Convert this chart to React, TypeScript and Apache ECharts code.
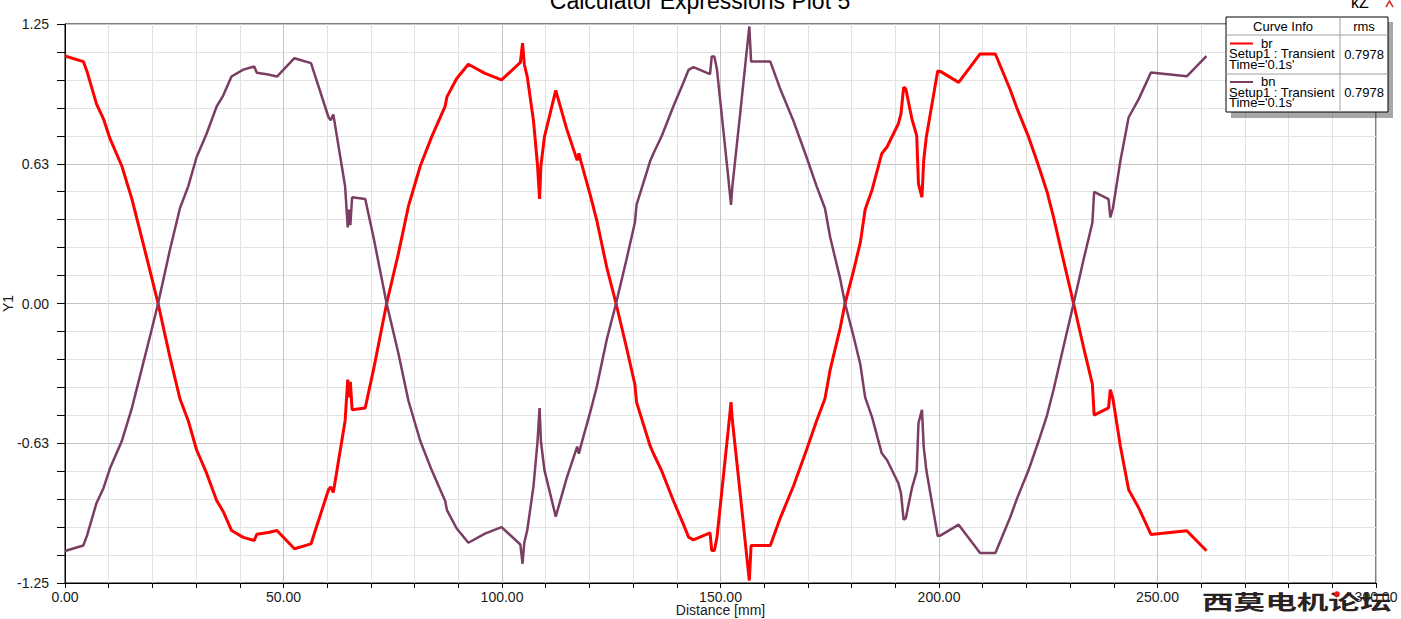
import React, { useEffect, useRef } from "react";
import * as echarts from "echarts";

const FONT = "'Liberation Sans', Arial, sans-serif";

const titleText = "Calculator Expressions Plot 5";
const xAxisName = "Distance [mm]";
const yAxisName = "Y1";

// Distance [mm]
const distance = [
  0.0, 4.2, 5.1, 7.2, 8.8, 10.3, 13.0, 15.3, 17.5, 19.5,
  21.3, 24.0, 26.3, 28.2, 30.1, 32.4, 34.7, 36.2, 38.1, 40.8,
  43.3, 43.9, 46.5, 48.5, 52.5, 56.3, 57.2, 60.3, 60.8, 61.4,
  64.1, 64.7, 65.0, 65.3, 65.7, 68.7, 70.6, 73.6, 76.3, 78.6,
  81.3, 83.9, 87.0, 87.4, 89.6, 92.3, 96.1, 99.9, 104.2, 104.7,
  105.1, 105.8, 107.2, 108.1, 108.6, 108.9, 109.7, 112.3, 114.8, 117.2,
  117.6, 118.0, 120.2, 121.7, 124.0, 126.1, 128.5, 130.4, 130.8, 133.9,
  134.7, 136.6, 139.2, 141.5, 142.7, 143.8, 147.6, 148.0, 148.6, 149.2,
  150.3, 151.8, 152.4, 152.7, 154.5, 156.0, 156.6, 157.0, 161.4, 163.6,
  166.7, 169.7, 172.0, 173.9, 175.1, 177.4, 178.5, 180.4, 182.0, 183.1,
  184.7, 186.9, 188.1, 190.7, 191.3, 191.9, 192.4, 193.8, 194.9, 195.3,
  196.1, 196.5, 197.1, 199.7, 200.3, 204.5, 209.4, 212.9, 216.3, 217.8,
  220.5, 222.8, 224.7, 226.2, 228.5, 230.8, 233.1, 235.1, 235.5, 238.8,
  239.2, 239.8, 241.5, 243.4, 245.7, 248.5, 256.7, 261.2,
];

// br
const brValues = [
  1.107, 1.082, 1.034, 0.893, 0.826, 0.737, 0.615, 0.468, 0.298, 0.143,
  0.0, -0.239, -0.426, -0.524, -0.654, -0.759, -0.881, -0.93, -1.015, -1.046,
  -1.06, -1.032, -1.024, -1.015, -1.097, -1.075, -1.02, -0.833, -0.82, -0.845,
  -0.524, -0.34, -0.42, -0.35, -0.475, -0.467, -0.296, 0.0, 0.224, 0.436,
  0.615, 0.745, 0.883, 0.924, 1.005, 1.07, 1.029, 1.0, 1.078, 1.164,
  1.07, 1.012, 0.818, 0.625, 0.468, 0.615, 0.744, 0.953, 0.781, 0.64,
  0.672, 0.64, 0.485, 0.371, 0.159, 0.0, -0.198, -0.361, -0.442, -0.637,
  -0.673, -0.751, -0.881, -0.987, -1.045, -1.057, -1.026, -1.105, -1.105, -1.045,
  -0.84, -0.56, -0.441, -0.52, -0.849, -1.13, -1.239, -1.082, -1.082, -0.963,
  -0.816, -0.654, -0.524, -0.426, -0.296, -0.109, 0.0, 0.143, 0.273, 0.42,
  0.509, 0.67, 0.7, 0.804, 0.848, 0.967, 0.96, 0.826, 0.751, 0.535,
  0.475, 0.64, 0.745, 1.04, 1.038, 0.989, 1.116, 1.116, 0.956, 0.875,
  0.745, 0.615, 0.501, 0.387, 0.192, 0.0, -0.198, -0.361, -0.499, -0.467,
  -0.385, -0.426, -0.637, -0.833, -0.914, -1.033, -1.016, -1.106,
];

// bn
const bnValues = [
  -1.107, -1.082, -1.034, -0.893, -0.826, -0.737, -0.615, -0.468, -0.298, -0.143,
  0.0, 0.239, 0.426, 0.524, 0.654, 0.759, 0.881, 0.93, 1.015, 1.046,
  1.06, 1.032, 1.024, 1.015, 1.097, 1.075, 1.02, 0.833, 0.82, 0.845,
  0.524, 0.34, 0.42, 0.35, 0.475, 0.467, 0.296, 0.0, -0.224, -0.436,
  -0.615, -0.745, -0.883, -0.924, -1.005, -1.07, -1.029, -1.0, -1.078, -1.164,
  -1.07, -1.012, -0.818, -0.625, -0.468, -0.615, -0.744, -0.953, -0.781, -0.64,
  -0.672, -0.64, -0.485, -0.371, -0.159, 0.0, 0.198, 0.361, 0.442, 0.637,
  0.673, 0.751, 0.881, 0.987, 1.045, 1.057, 1.026, 1.105, 1.105, 1.045,
  0.84, 0.56, 0.441, 0.52, 0.849, 1.13, 1.239, 1.082, 1.082, 0.963,
  0.816, 0.654, 0.524, 0.426, 0.296, 0.109, 0.0, -0.143, -0.273, -0.42,
  -0.509, -0.67, -0.7, -0.804, -0.848, -0.967, -0.96, -0.826, -0.751, -0.535,
  -0.475, -0.64, -0.745, -1.04, -1.038, -0.989, -1.116, -1.116, -0.956, -0.875,
  -0.745, -0.615, -0.501, -0.387, -0.192, 0.0, 0.198, 0.361, 0.499, 0.467,
  0.385, 0.426, 0.637, 0.833, 0.914, 1.033, 1.016, 1.106,
];

const seriesNames = ["br", "bn"];
const seriesColors = ["#ff0000", "#7b3d63"];
const rmsValues = ["0.7978", "0.7978"];
const setupText = "Setup1 : Transient";
const timeText = "Time='0.1s'";
const watermark = "西莫电机论坛";

export default function App() {
  const ref = useRef<HTMLDivElement>(null);

  useEffect(() => {
    if (!ref.current) return;
    const chart = echarts.init(ref.current, null, { renderer: "svg" });

    const brData = distance.map((d, i) => [d, brValues[i]]);
    const bnData = distance.map((d, i) => [d, bnValues[i]]);

    const txt = (x: number, y: number, text: string, align = "left") => ({
      type: "text",
      x,
      y,
      z: 12,
      style: {
        text,
        font: `13px ${FONT}`,
        fill: "#000",
        textAlign: align,
        textVerticalAlign: "middle",
      },
    });

    const legendRows: any[] = [];
    seriesNames.forEach((name, i) => {
      const top = 36 + i * 38.5;
      legendRows.push(
        {
          type: "line",
          z: 12,
          shape: { x1: 1230, y1: top + 7.5, x2: 1253, y2: top + 7.5 },
          style: { stroke: seriesColors[i], lineWidth: 2 },
        },
        txt(1261, top + 7, name),
        txt(1229, top + 17.5, setupText),
        txt(1229, top + 28, timeText),
        txt(1364, top + 18, rmsValues[i], "center")
      );
    });

    chart.setOption({
      animation: false,
      backgroundColor: "#ffffff",
      grid: {
        left: 65,
        right: 25,
        top: 24,
        bottom: 36,
        show: true,
        borderColor: "#000",
        borderWidth: 1,
        backgroundColor: "transparent",
        containLabel: false,
        outerBoundsMode: "none",
      },
      xAxis: {
        type: "value",
        min: 0,
        max: 300,
        interval: 50,
        name: xAxisName,
        nameLocation: "middle",
        nameGap: 20,
        nameMoveOverlap: false,
        nameTextStyle: { color: "#1a1a1a", fontSize: 14, fontFamily: FONT },
        axisLine: { show: true, onZero: false, lineStyle: { color: "#000", width: 1 } },
        axisTick: { show: true, length: 5, lineStyle: { color: "#000" } },
        minorTick: { show: true, splitNumber: 5, length: 5, lineStyle: { color: "#000" } },
        splitLine: { show: true, lineStyle: { color: "#c4c4c4", width: 1 } },
        minorSplitLine: { show: true, lineStyle: { color: "#e2e2e2", width: 1 } },
        axisLabel: {
          formatter: (v: number) => v.toFixed(2),
          color: "#1a1a1a",
          fontSize: 14,
          fontFamily: FONT,
          margin: 7,
        },
      },
      yAxis: {
        type: "value",
        min: -1.25,
        max: 1.25,
        interval: 0.625,
        name: yAxisName,
        nameLocation: "middle",
        nameGap: 50,
        nameRotate: 90,
        nameMoveOverlap: false,
        nameTextStyle: { color: "#1a1a1a", fontSize: 14, fontFamily: FONT },
        axisLine: { show: true, onZero: false, lineStyle: { color: "#000", width: 1 } },
        axisTick: { show: true, length: 8, lineStyle: { color: "#000" } },
        minorTick: { show: true, splitNumber: 5, length: 8, lineStyle: { color: "#000" } },
        splitLine: { show: true, lineStyle: { color: "#c4c4c4", width: 1 } },
        minorSplitLine: { show: true, lineStyle: { color: "#e2e2e2", width: 1 } },
        axisLabel: {
          formatter: (v: number) => v.toFixed(2),
          color: "#1a1a1a",
          fontSize: 14,
          fontFamily: FONT,
          margin: 16,
        },
      },
      series: [
        {
          name: seriesNames[0],
          type: "line",
          data: brData,
          showSymbol: false,
          symbol: "none",
          lineStyle: { color: seriesColors[0], width: 3 },
          itemStyle: { color: seriesColors[0] },
          z: 2,
        },
        {
          name: seriesNames[1],
          type: "line",
          data: bnData,
          showSymbol: false,
          symbol: "none",
          lineStyle: { color: seriesColors[1], width: 2.5 },
          itemStyle: { color: seriesColors[1] },
          z: 3,
        },
      ],
      graphic: [
        {
          type: "text",
          x: 700,
          y: -11,
          z: 10,
          style: {
            text: titleText,
            font: `23px ${FONT}`,
            fill: "#000",
            textAlign: "center",
            textVerticalAlign: "top",
          },
        },
        {
          type: "text",
          x: 1351,
          y: -6,
          z: 10,
          style: { text: "kZ", font: `16px ${FONT}`, fill: "#000" },
        },
        {
          type: "polyline",
          z: 10,
          shape: { points: [[1386, 7], [1389.5, 1], [1393, 7]] },
          style: { stroke: "#d03030", lineWidth: 1.5, fill: "none" },
        },
        // legend shadow
        {
          type: "rect",
          z: 10,
          shape: { x: 1231, y: 22, width: 162, height: 96 },
          style: { fill: "rgba(60,60,60,0.45)" },
        },
        {
          type: "rect",
          z: 11,
          shape: { x: 1226, y: 17, width: 162, height: 95 },
          style: { fill: "#ffffff", stroke: "#000", lineWidth: 1 },
        },
        { type: "line", z: 12, shape: { x1: 1226, y1: 35, x2: 1388, y2: 35 }, style: { stroke: "#a0a0a0", lineWidth: 1 } },
        { type: "line", z: 12, shape: { x1: 1226, y1: 74, x2: 1388, y2: 74 }, style: { stroke: "#a0a0a0", lineWidth: 1 } },
        { type: "line", z: 12, shape: { x1: 1340, y1: 17, x2: 1340, y2: 112 }, style: { stroke: "#a0a0a0", lineWidth: 1 } },
        txt(1283, 26, "Curve Info", "center"),
        txt(1364, 26, "rms", "center"),
        ...legendRows,
        // watermark
        {
          type: "text",
          x: 1202,
          y: 601,
          z: 20,
          scaleX: 1.58,
          scaleY: 1,
          style: {
            text: watermark,
            font: `bold 20px 'Noto Sans CJK SC', sans-serif`,
            fill: "#2b2222",
            textVerticalAlign: "middle",
          },
        },
        {
          type: "circle",
          z: 21,
          shape: { cx: 1337, cy: 594, r: 2.8 },
          style: { fill: "#ff1010" },
        },
      ],
    });

    return () => chart.dispose();
  }, []);

  return (
    <div
      ref={ref}
      style={{ position: "absolute", left: 0, top: 0, width: 1401, height: 619 }}
    />
  );
}
